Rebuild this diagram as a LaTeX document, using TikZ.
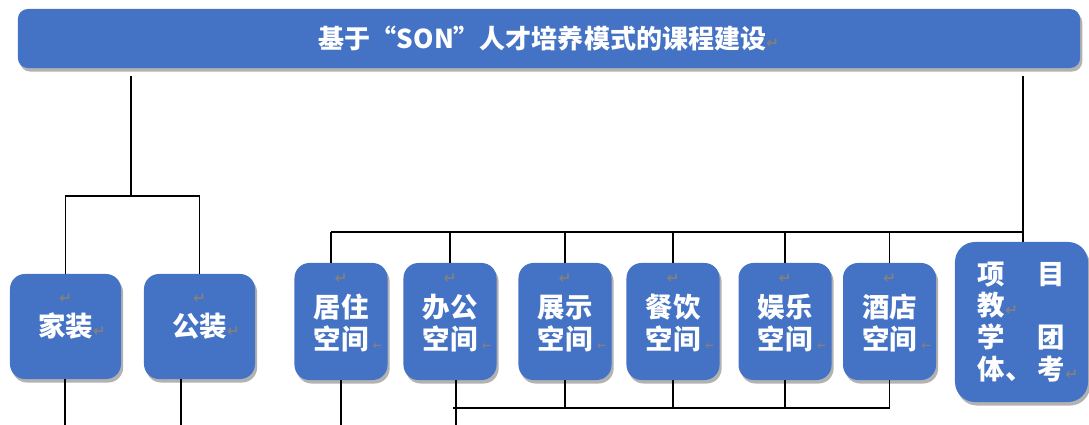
\documentclass[tikz,border=0pt]{standalone}
\usepackage{fontspec}
\setmainfont{Noto Sans CJK SC}
\newfontfamily\retfont{DejaVu Sans}
\usetikzlibrary{shadows}

\definecolor{boxblue}{HTML}{4472C4}
\newcommand{\ret}{{\retfont\fontsize{11}{11}\selectfont\color{gray}↵}}
\newcommand{\retl}{\rlap{\,\retfont\fontsize{8}{8}\selectfont\color{gray}←}}

\begin{document}
\begin{tikzpicture}[x=0.025cm, y=-0.025cm,
    course/.style={fill=boxblue, text=white, align=center, inner sep=0pt,
        font=\bfseries\fontsize{19.5}{22.7}\selectfont, rounded corners=0.375cm,
        drop shadow={shadow xshift=1.5pt, shadow yshift=-2.5pt, fill=black, opacity=0.3}},
    space/.style={course, minimum width=2.325cm, minimum height=2.925cm},
    link/.style={line width=1pt}]

    \useasboundingbox (0,0) rectangle (1089,425);

    \node[course, minimum width=26.55cm, minimum height=1.475cm, rounded corners=0.25cm,
        font=\bfseries\fontsize{18.5}{21}\selectfont] (title) at (549,38.5) {基于“SON”人才培养模式的课程建设\ret};

    \node[course, minimum width=2.775cm, minimum height=2.625cm] (jz) at (65.5,326.5) {\ret\\[1pt]家装\rlap{\ret}\\[-7pt]\mbox{}};
    \node[course, minimum width=2.775cm, minimum height=2.625cm] (gz) at (199.5,326.5) {\ret\\[1pt]公装\rlap{\ret}\\[-7pt]\mbox{}};

    \foreach \name/\x/\word in {jzkj/341/居住, bgkj/450/办公, zskj/565/展示, cykj/673/餐饮, ylkj/785/娱乐, jdkj/889.5/酒店}
        \node[space] (\name) at (\x,321.5) {\ret\\[2pt]\word\\空间\retl\\[-8.5pt]\mbox{}};

    \node[course, minimum width=3.325cm, minimum height=4cm, rounded corners=0.5cm, align=left] (xm) at (1021.5,322)
        {项\hspace{1.2em}目\\教\rlap{\ret}\\学\hspace{1.2em}团\\体、\hspace{0.2em}考\rlap{\ret}};

    % left branch
    \coordinate (l) at (131,196);
    \draw[link] ([yshift=-0.2cm]title.south -| l) -- (l);
    \draw[link] (jz.north) |- (l) -| (gz.north);

    % right branch
    \coordinate (r) at (1023,232);
    \coordinate (jt) at (331,232);
    \draw[link] ([yshift=-0.2cm]title.south -| r) -- (xm.north -| r);
    \draw[link] (jt) -- (r);
    \draw[link] (jt) -- (jt |- jzkj.north);
    \foreach \name in {bgkj,zskj,cykj,ylkj,jdkj}
        \draw[link] (\name.north |- r) -- (\name.north);

    % bottom bus
    \coordinate (b) at (453,408);
    \draw[link] (b) -- (jdkj.south |- b);
    \foreach \name in {zskj,cykj,ylkj,jdkj}
        \draw[link] (\name.south) -- (\name.south |- b);

    % free ends
    \coordinate (e1) at (65,425);
    \coordinate (e2) at (181,425);
    \coordinate (e3) at (341,425);
    \coordinate (e4) at (456,425);
    \draw[link] (e1 |- jz.south) -- (e1);
    \draw[link] (e2 |- gz.south) -- (e2);
    \draw[link] (jzkj.south) -- (e3);
    \draw[link] (e4 |- bgkj.south) -- (e4);

\end{tikzpicture}
\end{document}
